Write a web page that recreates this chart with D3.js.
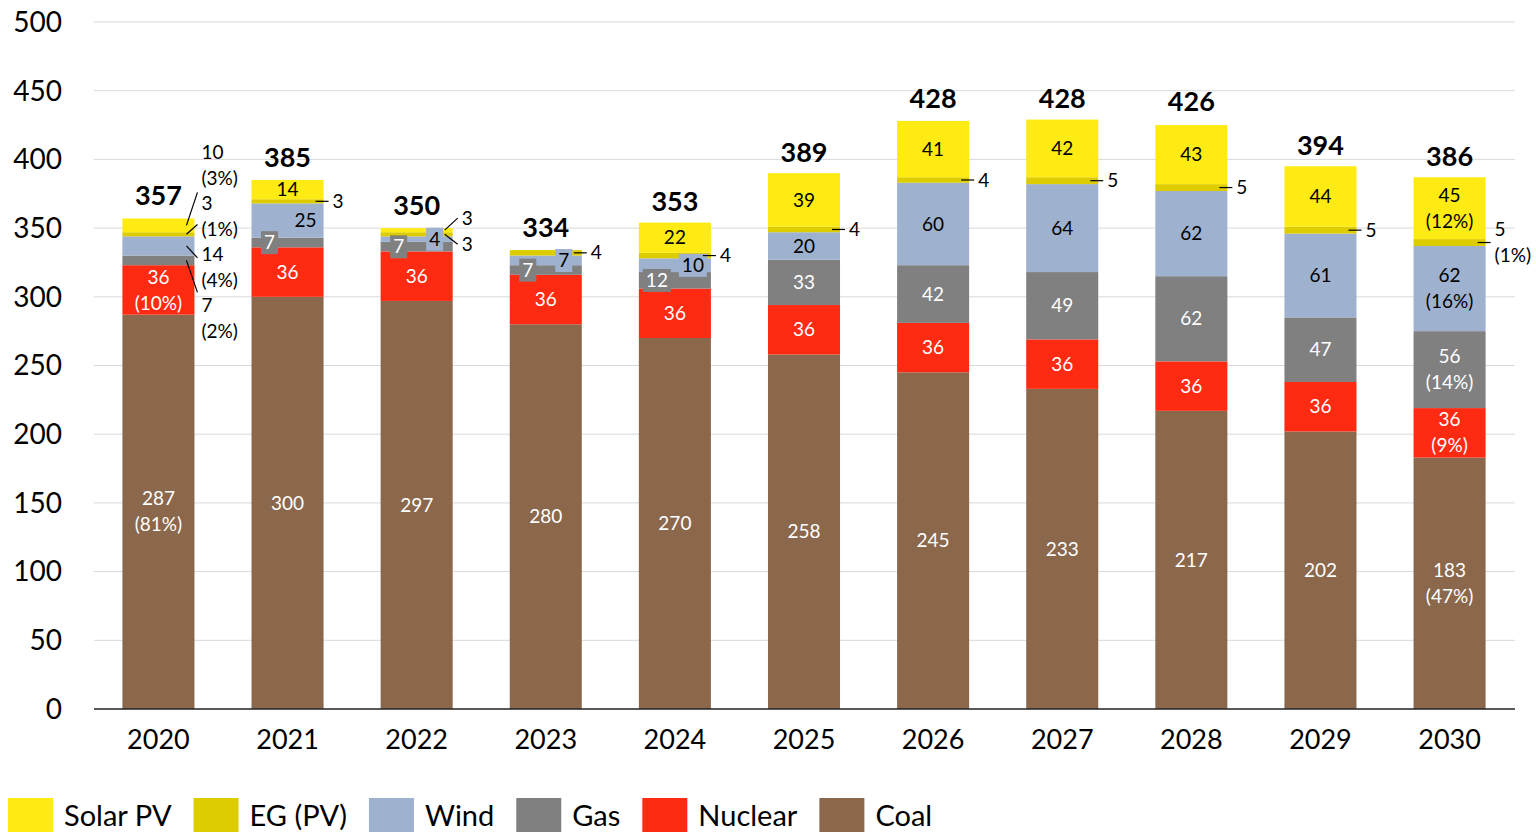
<!DOCTYPE html>
<html>
<head>
<meta charset="utf-8">
<script src="https://cdn.jsdelivr.net/npm/d3@7"></script>
<style>
  body { margin: 0; background: #fff; }
  svg { display: block; font-family: Lato, "Open Sans", sans-serif; }
</style>
</head>
<body>
<div id="chart"></div>
<script>
// data (TWh by year)
const years   = [2020, 2021, 2022, 2023, 2024, 2025, 2026, 2027, 2028, 2029, 2030];
const coal    = [287, 300, 297, 280, 270, 258, 245, 233, 217, 202, 183];
const nuclear = [36, 36, 36, 36, 36, 36, 36, 36, 36, 36, 36];
const gas     = [7, 7, 7, 7, 12, 33, 42, 49, 62, 47, 56];
const wind    = [14, 25, 4, 7, 10, 20, 60, 64, 62, 61, 62];
const egpv    = [3, 3, 3, 4, 4, 4, 4, 5, 5, 5, 5];
const solar   = [10, 14, 3, 0, 22, 39, 41, 42, 43, 44, 45];
const totals  = [357, 385, 350, 334, 353, 389, 428, 428, 426, 394, 386];
const yTicks  = [0, 50, 100, 150, 200, 250, 300, 350, 400, 450, 500];
// shares shown for first and last year, order: coal, nuclear, gas, wind, eg, solar
const share2020 = [81, 10, 2, 4, 1, 3];
const share2030 = [47, 9, 14, 16, 1, 12];

const keys = ["coal", "nuclear", "gas", "wind", "eg", "solar"];
const colors = {
  solar: "#ffeb14", eg: "#ddcc00", wind: "#9eb1cf",
  gas: "#808080", nuclear: "#ff2a12", coal: "#8b684c"
};
const legendItems = [
  {key: "solar", name: "Solar PV"}, {key: "eg", name: "EG (PV)"},
  {key: "wind", name: "Wind"}, {key: "gas", name: "Gas"},
  {key: "nuclear", name: "Nuclear"}, {key: "coal", name: "Coal"}
];

const width = 1536, height = 832;
const svg = d3.select("#chart").append("svg")
    .attr("width", width).attr("height", height);

const rows = years.map((yr, i) => ({
  year: yr, coal: coal[i], nuclear: nuclear[i], gas: gas[i],
  wind: wind[i], eg: egpv[i], solar: solar[i], total: totals[i], i: i
}));

const x = d3.scaleBand().domain(years).range([94, 1514])
    .paddingInner(0.442).paddingOuter(0.22);
const y = d3.scaleLinear().domain([0, 500]).range([709, 22]);
const bw = x.bandwidth();

// grid
svg.append("g").selectAll("line").data(yTicks.slice(1)).join("line")
    .attr("x1", 94).attr("x2", 1515)
    .attr("y1", d => y(d)).attr("y2", d => y(d))
    .attr("stroke", "#d9d9d9").attr("stroke-width", 1);

// y labels
svg.append("g").selectAll("text").data(yTicks).join("text")
    .attr("x", 62).attr("y", d => y(d)).attr("dy", "0.35em")
    .attr("text-anchor", "end").style("font-size", "28px")
    .text(d => d);

const series = d3.stack().keys(keys)(rows);

svg.append("g").selectAll("g").data(series).join("g")
    .attr("fill", s => colors[s.key])
  .selectAll("rect").data(s => s).join("rect")
    .attr("x", d => x(d.data.year))
    .attr("y", d => y(d[1]))
    .attr("width", bw)
    .attr("height", d => y(d[0]) - y(d[1]));

// baseline
svg.append("line").attr("x1", 94).attr("x2", 1515)
    .attr("y1", y(0)).attr("y2", y(0))
    .attr("stroke", "#222").attr("stroke-width", 1.5);

// x labels
svg.append("g").selectAll("text").data(years).join("text")
    .attr("x", d => x(d) + bw / 2).attr("y", 740).attr("dy", "0.35em")
    .attr("text-anchor", "middle").style("font-size", "27px")
    .text(d => d);

// totals
svg.append("g").selectAll("text").data(rows).join("text")
    .attr("x", d => x(d.year) + bw / 2).attr("y", d => y(d.total) - 13)
    .attr("text-anchor", "middle").style("font-size", "27px")
    .style("font-weight", "bold")
    .text(d => d.total);

// segment labels
const lab = svg.append("g").style("font-size", "19px");

function lines(g, cx, cy, arr, fill, anchor) {
  const off = (arr.length - 1) * 13;
  arr.forEach((t, k) => {
    g.append("text").attr("x", cx).attr("y", cy - off + k * 26)
      .attr("dy", "0.35em").attr("text-anchor", anchor || "middle")
      .attr("fill", fill).text(t);
  });
}

function boxed(cx, cy, t, bg, fill) {
  const g = lab.append("g");
  const tx = g.append("text").attr("x", cx).attr("y", cy).attr("dy", "0.35em")
      .attr("text-anchor", "middle").attr("fill", fill).text(t);
  const b = tx.node().getBBox();
  g.insert("rect", "text").attr("x", b.x - 3).attr("y", b.y + 1)
      .attr("width", b.width + 6).attr("height", b.height)
      .attr("fill", bg);
}

series.forEach((s, si) => {
  s.forEach(d => {
    const r = d.data, v = r[s.key];
    if (v === 0) return;
    const cx = x(r.year) + bw / 2, mid = y((d[0] + d[1]) / 2);
    const right = x(r.year) + bw;
    let txt = [v];
    if (r.year === 2020) txt = [v, "(" + share2020[si] + "%)"];
    if (r.year === 2030) txt = [v, "(" + share2030[si] + "%)"];
    const white = ["coal", "nuclear", "gas"].includes(s.key) ? "#fff" : "#000";

    if (r.year === 2020 && !["coal", "nuclear"].includes(s.key)) {
      // stacked side labels for the first bar
      const order = ["solar", "eg", "wind", "gas"].indexOf(s.key);
      const bc = y(r.total) - 53 + order * 51;
      const ey = bc + (mid - bc) * 0.45;
      lab.append("line").attr("x1", right - 8).attr("y1", mid)
          .attr("x2", right + 3).attr("y2", ey)
          .attr("stroke", "#000").attr("stroke-width", 1.2);
      lines(lab, right + 7, bc, txt, "#000", "start");
      return;
    }
    if (s.key === "eg" || (s.key === "solar" && v < 5)) {
      let ly = mid;
      if (r.year === 2022) ly = s.key === "eg" ? mid + 10 : mid - 12;
      lab.append("line").attr("x1", right - 8).attr("y1", mid)
          .attr("x2", right + 5).attr("y2", ly)
          .attr("stroke", "#000").attr("stroke-width", 1.2);
      lines(lab, right + 9, ly, txt, "#000", "start");
      return;
    }
    if (s.key === "gas" && r.year <= 2024) {
      boxed(cx - 18, mid, v, colors.gas, "#fff");
      return;
    }
    if (s.key === "wind" && r.year <= 2024) {
      boxed(cx + 18, mid, v, colors.wind, "#000");
      return;
    }
    lines(lab, cx, mid, txt, white);
  });
});

// legend
const leg = svg.append("g").style("font-size", "29px");
let lx = 8;
legendItems.forEach(it => {
  leg.append("rect").attr("x", lx).attr("y", 798).attr("width", 45)
      .attr("height", 34).attr("fill", colors[it.key]);
  const t = leg.append("text").attr("x", lx + 56).attr("y", 816)
      .attr("dy", "0.35em").text(it.name);
  lx += 56 + t.node().getComputedTextLength() + 22;
});
</script>
</body>
</html>
